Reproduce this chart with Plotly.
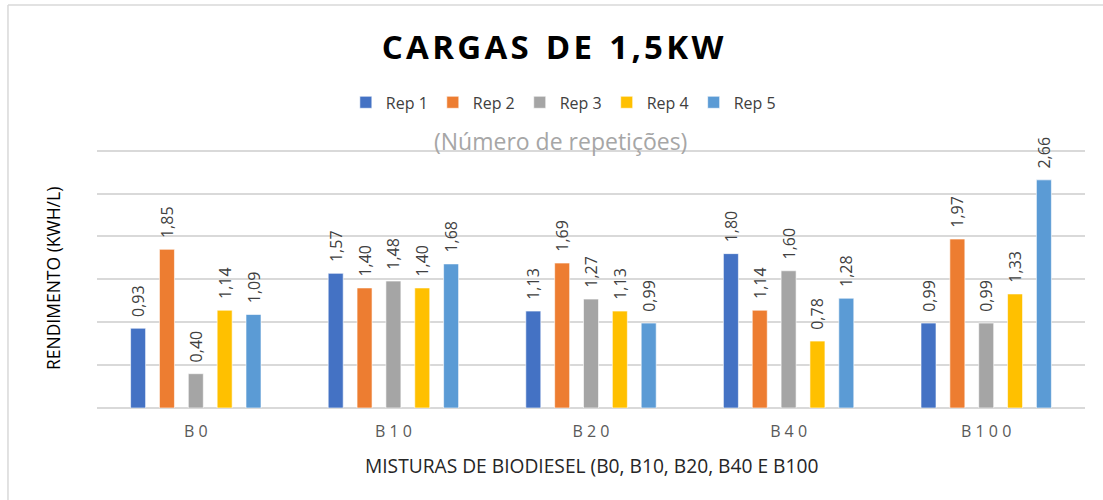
import plotly.graph_objects as go

categories = ["B0", "B10", "B20", "B40", "B100"]
series_names = ["Rep 1", "Rep 2", "Rep 3", "Rep 4", "Rep 5"]
rep1 = [0.93, 1.57, 1.13, 1.80, 0.99]
rep2 = [1.85, 1.40, 1.69, 1.14, 1.97]
rep3 = [0.40, 1.48, 1.27, 1.60, 0.99]
rep4 = [1.14, 1.40, 1.13, 0.78, 1.33]
rep5 = [1.09, 1.68, 0.99, 1.28, 2.66]
colors = ["#4472C4", "#ED7D31", "#A5A5A5", "#FFC000", "#5B9BD5"]

tick_labels = [" ".join(list(c)) for c in categories]
title_text = "  ".join("\u200a".join(list(w)) for w in ["CARGAS", "DE", "1,5KW"])

FONT = "Open Sans, Noto Sans, sans-serif"

fig = go.Figure()
for name, vals, col in zip(series_names, [rep1, rep2, rep3, rep4, rep5], colors):
    fig.add_trace(go.Bar(
        x=categories, y=vals, name=name,
        marker=dict(color=col, line=dict(color="rgba(255,255,255,0.6)", width=1)),
        texttemplate="\u00a0\u00a0%{y:.2f}", textposition="outside", textangle=-90,
        constraintext="none",
        textfont=dict(family=FONT, size=16, color="#404040"),
        cliponaxis=False,
    ))

fig.update_layout(
    width=1103, height=500,
    margin=dict(l=97, r=18, t=149, b=92),
    paper_bgcolor="white", plot_bgcolor="white",
    separators=",.",
    barmode="group", bargap=0.27, bargroupgap=0.48,
    title=dict(text="<b>" + title_text + "</b>", x=0.501, xanchor="center",
               y=0.906, yanchor="middle",
               font=dict(family=FONT, size=33, color="#000000")),
    legend=dict(orientation="h", x=0.472, xanchor="center", y=1.18, yanchor="middle",
                font=dict(family=FONT, size=16, color="#404040"),
                itemwidth=30, traceorder="normal"),
    showlegend=True,
    font=dict(family=FONT),
)
fig.update_xaxes(tickmode="array", tickvals=categories, ticktext=tick_labels,
                 tickfont=dict(family=FONT, size=16, color="#595959"),
                 ticklabelstandoff=12,
                 showline=False, showgrid=False, ticks="", fixedrange=True)
fig.update_yaxes(range=[0, 3.02], dtick=0.5, showticklabels=False,
                 showgrid=True, gridcolor="#d9d9d9", gridwidth=1.5,
                 zeroline=True, zerolinecolor="#d9d9d9", zerolinewidth=1.5,
                 ticks="", showline=False)

fig.add_annotation(text="(Número de repetições)", xref="paper", yref="paper",
                   x=0.469, y=1.03, xanchor="center", yanchor="middle", showarrow=False,
                   font=dict(family=FONT, size=23, color="#A6A6A6"))
fig.add_annotation(text="RENDIMENTO (KWH/L)", xref="paper", yref="paper",
                   x=-0.0445, y=0.498, xanchor="center", yanchor="middle", showarrow=False,
                   textangle=-90, font=dict(family=FONT, size=17.5, color="#000000"))
fig.add_annotation(text="MISTURAS DE BIODIESEL (B0, B10, B20, B40 E B100", xref="paper", yref="paper",
                   x=0.5, y=-0.222, xanchor="center", yanchor="middle", showarrow=False,
                   font=dict(family=FONT, size=19.2, color="#262626"))

# chart border (left and top edges visible)
fig.add_shape(type="line", xref="paper", yref="paper", x0=-0.0901, x1=1.1, y0=1.556, y1=1.556,
              line=dict(color="#d9d9d9", width=1.5))
fig.add_shape(type="line", xref="paper", yref="paper", x0=-0.0901, x1=-0.0901, y0=1.556, y1=-0.5,
              line=dict(color="#d9d9d9", width=1.5))

fig.write_html("out.html", config={"displayModeBar": False},
               post_script="document.body.style.margin='0px';")
